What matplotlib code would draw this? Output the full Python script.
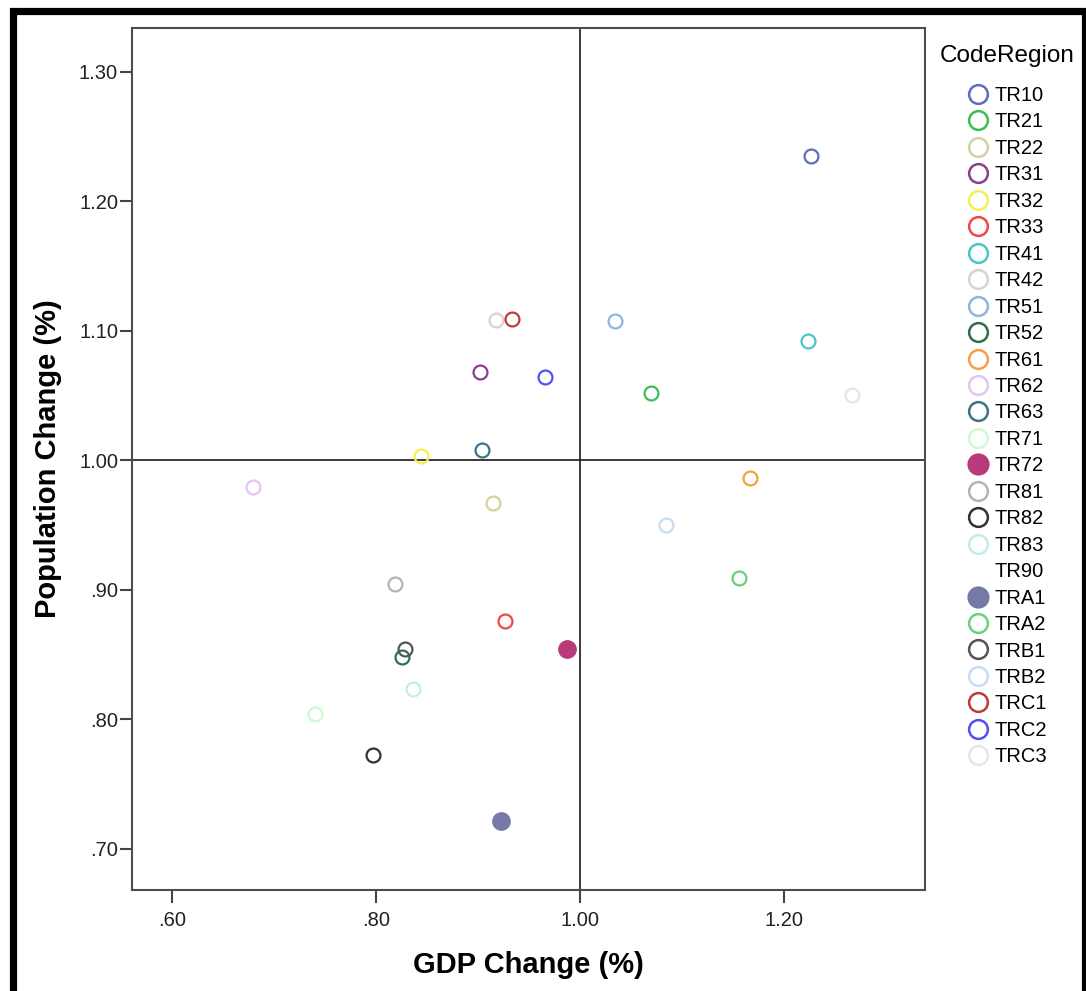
"""Scatter of GDP change vs population change per region (SPSS style)."""

import matplotlib
matplotlib.use("Agg")
import matplotlib.pyplot as plt
from matplotlib.lines import Line2D
from matplotlib.patches import Rectangle
from matplotlib.ticker import FuncFormatter

plt.rcParams["font.family"] = ["Liberation Sans", "DejaVu Sans"]

# Data
regions = [
    "TR10", "TR21", "TR22", "TR31", "TR32", "TR33", "TR41", "TR42", "TR51",
    "TR52", "TR61", "TR62", "TR63", "TR71", "TR72", "TR81", "TR82", "TR83",
    "TR90", "TRA1", "TRA2", "TRB1", "TRB2", "TRC1", "TRC2", "TRC3",
]
gdp_change = [
    1.226, 1.070, 0.915, 0.902, 0.844, 0.927, 1.223, 0.918, 1.034,
    0.826, 1.167, 0.680, 0.904, 0.740, 0.987, 0.819, 0.797, 0.836,
    None, 0.923, 1.156, 0.829, 1.084, 0.933, 0.966, 1.267,
]
pop_change = [
    1.235, 1.052, 0.967, 1.068, 1.003, 0.876, 1.092, 1.108, 1.107,
    0.848, 0.986, 0.979, 1.008, 0.804, 0.854, 0.904, 0.772, 0.823,
    None, 0.721, 0.909, 0.854, 0.950, 1.109, 1.064, 1.050,
]
colors = [
    "#5b6ebe", "#3dbe55", "#d6cfa0", "#8b3f8e", "#f5f050", "#f04848", "#4cc5c5",
    "#d4d4d4", "#8db6e0", "#2e6e4a", "#f6a043", "#e3c4f2", "#3b7488", "#cffacf",
    "#b83a7a", "#b4b4b4", "#333333", "#c4ecec", "#ffffff", "#7579a8", "#66d27e",
    "#555555", "#c4ddf5", "#c03a3a", "#5050f8", "#e6e6e6",
]
filled = {"TR72", "TRA1"}

x_ticks = [0.60, 0.80, 1.00, 1.20]
y_ticks = [0.70, 0.80, 0.90, 1.00, 1.10, 1.20, 1.30]


def spss_fmt(v, pos):
    s = f"{v:.2f}"
    return s[1:] if s.startswith("0") else s


fig = plt.figure(figsize=(10.86, 9.91), dpi=100)
ax = fig.add_axes([0.1215, 0.1019, 0.7302, 0.8698])

ax.axvline(1.0, color="#1a1a1a", lw=1.2, zorder=1)
ax.axhline(1.0, color="#1a1a1a", lw=1.2, zorder=1)

handles = []
for name, gx, py, col in zip(regions, gdp_change, pop_change, colors):
    if gx is None:
        handles.append(Line2D([], [], linestyle="None", marker="None", label=name))
        continue
    if name in filled:
        ax.plot(gx, py, "o", ms=13.5, mfc=col, mec=col, mew=0, zorder=3)
        handles.append(Line2D([], [], linestyle="None", marker="o", ms=16,
                              mfc=col, mec=col, mew=0, label=name))
    else:
        ax.plot(gx, py, "o", ms=10, mfc="none", mec=col, mew=1.6, zorder=3)
        handles.append(Line2D([], [], linestyle="None", marker="o", ms=13.5,
                              mfc="none", mec=col, mew=1.8, label=name))

ax.set_xlim(0.561, 1.338)
ax.set_ylim(0.668, 1.3336)
ax.set_xticks(x_ticks)
ax.set_yticks(y_ticks)
ax.xaxis.set_major_formatter(FuncFormatter(spss_fmt))
ax.yaxis.set_major_formatter(FuncFormatter(spss_fmt))
ax.tick_params(direction="out", length=9, width=1.5, colors="#444444",
               labelcolor="#222222", labelsize=14.5)
ax.tick_params(axis="x", pad=6)
ax.tick_params(axis="y", pad=1)
for sp in ax.spines.values():
    sp.set_color("#4d4d4d")
    sp.set_linewidth(1.5)

ax.set_xlabel("GDP Change (%)", fontsize=21, fontweight="bold", labelpad=15)
ax.set_ylabel("Population Change (%)", fontsize=21, fontweight="bold", labelpad=12)

leg = fig.legend(handles=handles, loc="upper left", bbox_to_anchor=(0.8655, 0.955),
                 frameon=False, title="CodeRegion", fontsize=14.5,
                 title_fontsize=17.5, borderpad=0, borderaxespad=0,
                 labelspacing=0.37, handlelength=1.0, handletextpad=0.3,
                 handleheight=0.7)
leg._legend_box.sep = 14

# outer black frame
fig.patches.append(Rectangle((12.5 / 1086, 1 - 992.5 / 991), (1084.5 - 12.5) / 1086,
                             (992.5 - 11) / 991, transform=fig.transFigure,
                             fill=False, edgecolor="black", lw=5.2))

fig.savefig("out.png", dpi=100)
